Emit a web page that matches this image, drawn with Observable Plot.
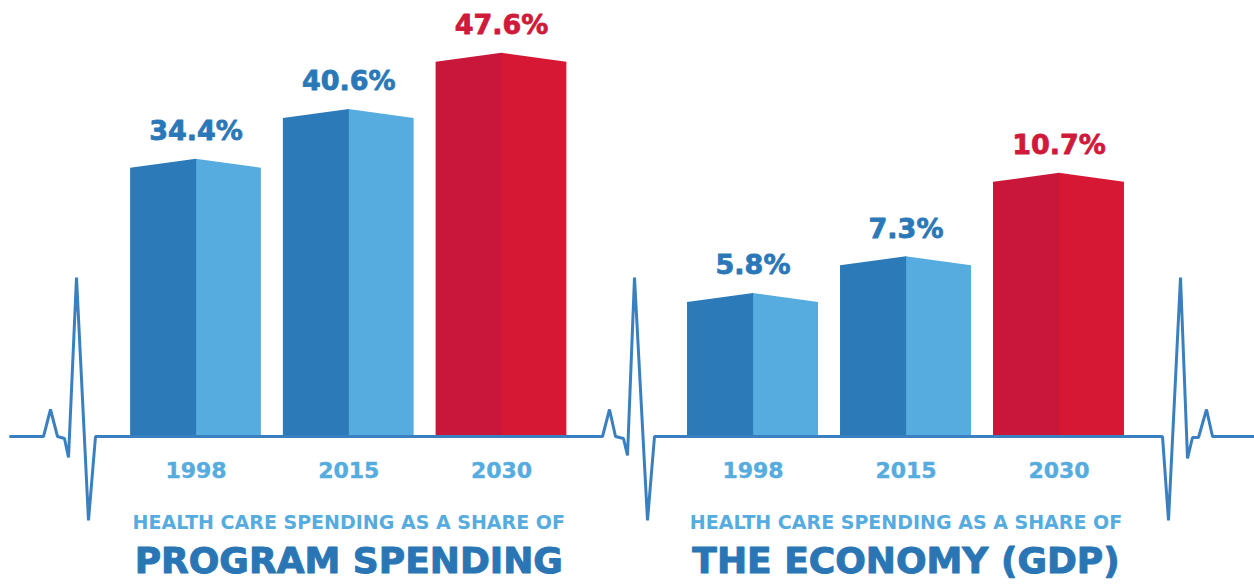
<!DOCTYPE html>
<html>
<head>
<meta charset="utf-8">
<script src="https://cdn.jsdelivr.net/npm/d3@7"></script>
<script src="https://cdn.jsdelivr.net/npm/@observablehq/plot@0.6"></script>
<style>
  html, body { margin: 0; padding: 0; background: #ffffff; }
  #wrap { position: relative; width: 1254px; height: 584px; overflow: hidden; }
  #ecg { position: absolute; left: 0; top: 0; }
  #panels { position: absolute; left: 0; top: 0; display: flex; }
  svg { overflow: visible; }
</style>
</head>
<body>
<div id="wrap">
  <div id="ecg"></div>
  <div id="panels"></div>
</div>
<script>
// ---------- data ----------
const years = ["1998", "2015", "2030"];
const programShare = [34.4, 40.6, 47.6];   // % of program spending
const gdpShare = [5.8, 7.3, 10.7];         // % of GDP
const subtitle = "HEALTH CARE SPENDING AS A SHARE OF";
const titles = ["PROGRAM SPENDING", "THE ECONOMY (GDP)"];
// heartbeat trace: [x position, lift above baseline]
const ecgPoints = [
  [10, 0], [43, 0], [50, 27], [57, 0], [64, -2], [68, -21], [76, 159], [88, -84], [95, 0],
  [602, 0], [609, 27], [615, 0], [623, -2], [627, -19], [634, 159], [647, -84], [654, 0],
  [1162, 0], [1168, -84], [1180, 159], [1187, -22], [1192, -1], [1198, -1], [1206, 27], [1212, 0],
  [1254, 0]
];

// ---------- style ----------
const blueDark = "#2c7ab7", blueLight = "#56acde";
const redDark = "#c8173a", redLight = "#d71834";
const labelBlue = "#2b78b8", labelRed = "#cf1a3a";
const yearColor = "#56acde", titleColor = "#2a76b5";
const font = "DejaVu Sans";
const W = 627, H = 584, baseline = 435;
const barHalf = 0.428, dropPx = 9, seam = 0.004;

function panel(values, yMax, pxPerUnit, marginLeft, marginRight, title) {
  const drop = dropPx / pxPerUnit;
  const rows = [];
  values.forEach((v, i) => {
    const last = i === values.length - 1;
    const dk = last ? redDark : blueDark, lt = last ? redLight : blueLight;
    rows.push({x: i - barHalf, y: v - drop, k: i + "a", c: dk});
    rows.push({x: i + seam, y: v, k: i + "a", c: dk});
    rows.push({x: i, y: v, k: i + "b", c: lt});
    rows.push({x: i + barHalf, y: v - drop, k: i + "b", c: lt});
  });
  const labels = values.map((v, i) => ({i, v, year: years[i], c: i === values.length - 1 ? labelRed : labelBlue}));
  return Plot.plot({
    width: W, height: H,
    marginLeft, marginRight,
    marginTop: baseline - yMax * pxPerUnit,
    marginBottom: H - baseline,
    x: {domain: [0, values.length - 1], axis: null},
    y: {domain: [0, yMax], axis: null},
    color: {type: "identity"},
    style: {fontFamily: font, background: "transparent"},
    marks: [
      Plot.area(rows.filter(r => r.k.endsWith("b")), {x1: "x", y1: () => 0, y2: "y", z: "k", fill: "c", curve: "linear"}),
      Plot.area(rows.filter(r => r.k.endsWith("a")), {x1: "x", y1: () => 0, y2: "y", z: "k", fill: "c", curve: "linear"}),
      Plot.text(labels, {x: "i", y: "v", text: d => d.v.toFixed(1) + "%", fill: "c", stroke: "c", strokeWidth: 0.8,
        fontSize: 27, fontWeight: "bold", lineAnchor: "bottom", dy: -19}),
      Plot.text(labels, {x: "i", y: () => 0, text: "year", fill: yearColor, stroke: yearColor, strokeWidth: 0.4,
        fontSize: 22, fontWeight: "bold", lineAnchor: "bottom", dy: 42}),
      Plot.text([subtitle], {x: () => 1, y: () => 0, text: d => d, fill: yearColor,
        fontSize: 19, fontWeight: "bold", lineAnchor: "bottom", dy: 93}),
      Plot.text([title], {x: () => 1, y: () => 0, text: d => d, fill: titleColor, stroke: titleColor, strokeWidth: 1,
        fontSize: 36, fontWeight: "bold", lineAnchor: "bottom", dy: 137})
    ]
  });
}

const ecg = Plot.plot({
  width: 1254, height: H, margin: 0,
  x: {domain: [0, 1254], axis: null},
  y: {domain: [baseline - H + 1, baseline + 1], axis: null},
  style: {background: "transparent"},
  marks: [
    Plot.line(ecgPoints, {x: d => d[0], y: d => d[1], stroke: "#3a80c0", strokeWidth: 3,
      strokeLinejoin: "miter", curve: "linear"})
  ]
});
document.getElementById("ecg").appendChild(ecg);

const panels = document.getElementById("panels");
panels.appendChild(panel(programShare, 50, 8.03, 195.5, 126, titles[0]));
panels.appendChild(panel(gdpShare, 16, 24.5, 125.5, 195.5, titles[1]));
</script>
</body>
</html>
